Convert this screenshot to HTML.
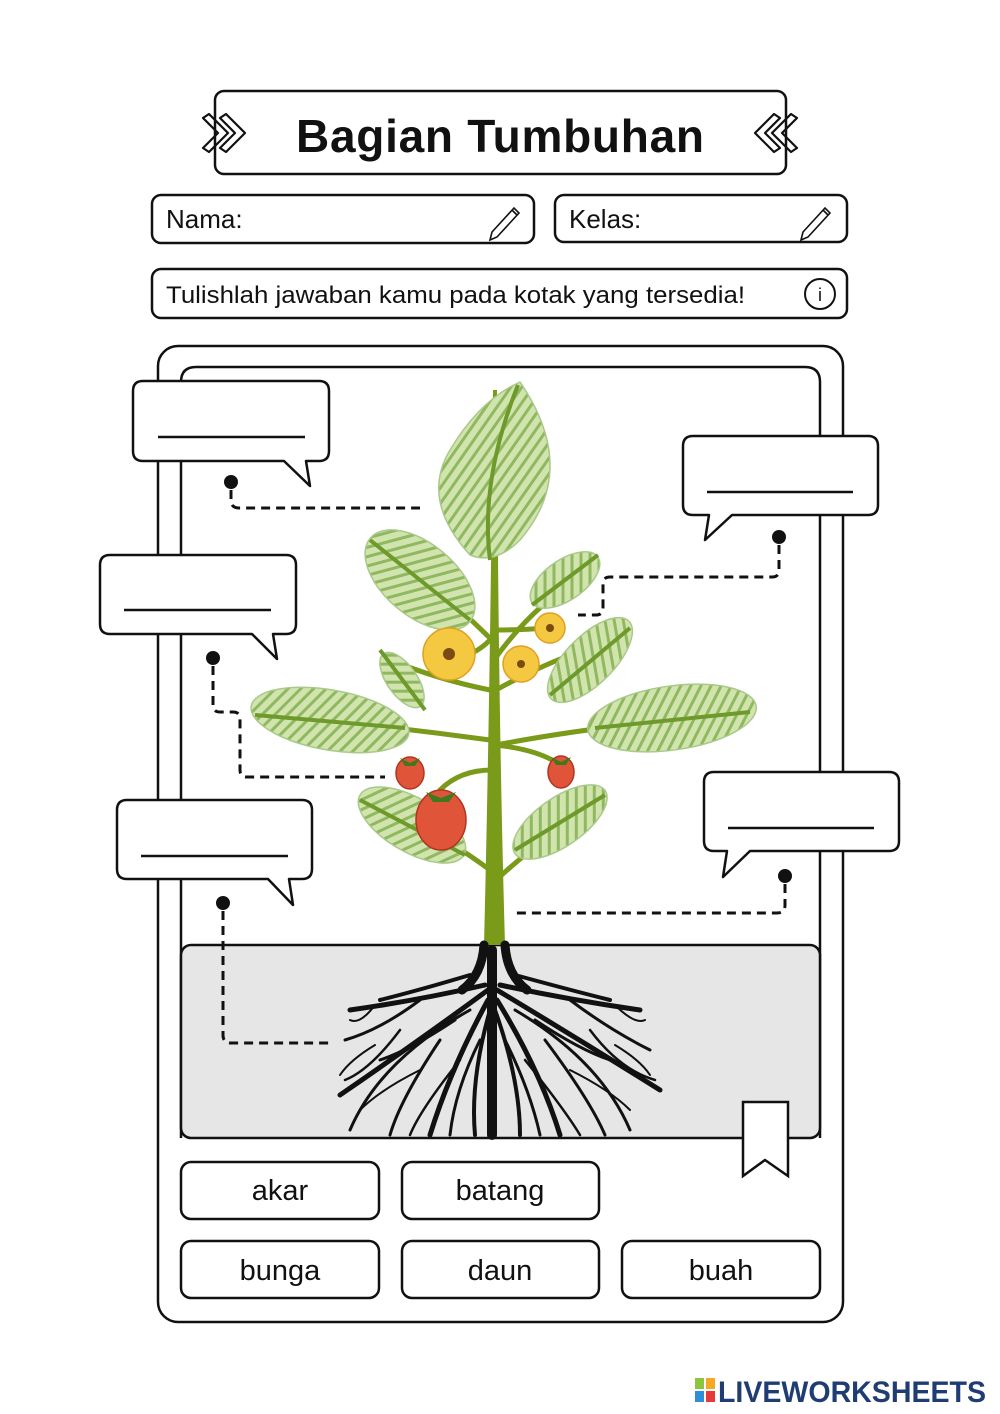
<!DOCTYPE html>
<html><head><meta charset="utf-8"><style>html,body{margin:0;padding:0;background:#fff}svg{display:block}text{font-family:"Liberation Sans",sans-serif}</style></head>
<body>
<svg width="1000" height="1414" viewBox="0 0 1000 1414" xmlns="http://www.w3.org/2000/svg">
<defs>
<pattern id="st" width="9" height="9" patternUnits="userSpaceOnUse" patternTransform="rotate(35)">
<rect width="9" height="9" fill="#d2e4ae"/><rect width="3" height="9" fill="#8fb860"/>
</pattern>
</defs>
<g fill="none" stroke="#111" stroke-width="2.5">
<rect x="215" y="91" width="571" height="83" rx="9"/>
<g stroke-width="2.2" stroke-linejoin="round">
<path d="M203,118 L218,133 L203,148 L209,152 L228,133 L209,114z"/>
<path d="M220,118 L235,133 L220,148 L226,152 L245,133 L226,114z"/>
<path d="M797,118 L782,133 L797,148 L791,152 L772,133 L791,114z"/>
<path d="M780,118 L765,133 L780,148 L774,152 L755,133 L774,114z"/>
</g>
<rect x="152" y="195" width="382" height="48" rx="9"/>
<rect x="555" y="195" width="292" height="47" rx="9"/>
<rect x="152" y="269" width="695" height="49" rx="9"/>
<circle cx="820" cy="294" r="15" stroke-width="2"/>
<rect x="158" y="346" width="685" height="976" rx="20"/>
<path d="M181,1138 V382 Q181,367 196,367 H805 Q820,367 820,382 V1138"/>
<rect x="181" y="945" width="639" height="193" rx="10" fill="#e6e6e6"/>
</g>
<text x="500" y="152" text-anchor="middle" font-size="46" font-weight="bold" fill="#111" textLength="408">Bagian Tumbuhan</text>
<text x="166" y="228" font-size="26" fill="#111">Nama:</text>
<text x="569" y="228" font-size="26" fill="#111">Kelas:</text>
<text x="166" y="303" font-size="24" fill="#111" textLength="579" lengthAdjust="spacingAndGlyphs">Tulishlah jawaban kamu pada kotak yang tersedia!</text>
<text x="820" y="301" font-size="18" text-anchor="middle" fill="#111">i</text>
<g fill="none" stroke="#111" stroke-width="1.6">
<path d="M492,232 l22,-24 l5,5 l-22,24 l-7,3z M512,210 l5,5"/>
<path d="M803,232 l22,-24 l5,5 l-22,24 l-7,3z M823,210 l5,5"/>
</g>
<!-- plant -->
<g>
<path d="M484,945 Q490,700 493,390 L497,390 Q498,700 505,945z" fill="#7a9a1a"/>
<g stroke="#7a9a1a" stroke-width="5" fill="none" stroke-linecap="round">
<path d="M492,640 Q450,600 410,560"/><path d="M494,660 Q530,610 570,585"/>
<path d="M490,740 Q380,725 270,715"/><path d="M496,745 Q600,725 730,715"/>
<path d="M490,690 Q440,680 390,660"/><path d="M496,690 Q550,660 600,645"/>
<path d="M490,870 Q450,840 390,810"/><path d="M496,880 Q540,840 590,805"/>
<path d="M490,640 Q470,660 450,655"/><path d="M495,630 Q520,630 548,628"/>
<path d="M492,770 Q460,770 440,790"/><path d="M496,745 Q540,750 560,765"/>
</g>
<g fill="url(#st)" stroke="#a9c98a" stroke-width="1.5">
<path d="M520,382 Q580,470 520,540 Q495,565 470,555 Q420,500 450,450 Q480,400 520,382z"/>
<ellipse cx="420" cy="580" rx="65" ry="36" transform="rotate(40 420 580)"/>
<ellipse cx="565" cy="580" rx="40" ry="20" transform="rotate(-35 565 580)"/>
<ellipse cx="402" cy="680" rx="32" ry="15" transform="rotate(55 402 680)"/>
<ellipse cx="330" cy="720" rx="80" ry="30" transform="rotate(10 330 720)"/>
<ellipse cx="590" cy="660" rx="55" ry="24" transform="rotate(-45 590 660)"/>
<ellipse cx="672" cy="718" rx="85" ry="32" transform="rotate(-8 672 718)"/>
<ellipse cx="412" cy="825" rx="60" ry="27" transform="rotate(30 412 825)"/>
<ellipse cx="560" cy="822" rx="55" ry="24" transform="rotate(-35 560 822)"/>
</g>
<g stroke="#6d9a2a" stroke-width="4" fill="none">
<path d="M518,385 Q480,480 490,560"/><path d="M370,540 L470,620"/><path d="M598,555 L532,605"/>
<path d="M255,715 L405,728"/><path d="M750,712 L595,728"/><path d="M630,628 L550,695"/>
<path d="M360,800 L465,855"/><path d="M605,795 L515,850"/><path d="M380,650 L425,710"/>
</g>
<g fill="#f5c842" stroke="#e0a020" stroke-width="1.5">
<circle cx="449" cy="654" r="26"/><circle cx="550" cy="628" r="15"/><circle cx="521" cy="664" r="18"/>
</g>
<g fill="#7a4a10"><circle cx="449" cy="654" r="6"/><circle cx="550" cy="628" r="4"/><circle cx="521" cy="664" r="4"/></g>
<g fill="#e0553a" stroke="#b03520" stroke-width="1.5">
<ellipse cx="410" cy="773" rx="14" ry="16"/><ellipse cx="441" cy="820" rx="25" ry="30"/><ellipse cx="561" cy="772" rx="13" ry="16"/>
</g>
<g fill="#3e7a1a"><path d="M400,758 l10,5 l10,-5 l-5,8 h-10z"/><path d="M426,792 l15,6 l15,-6 l-7,10 h-16z"/><path d="M551,757 l10,5 l10,-5 l-5,8 h-10z"/></g>
<!-- roots -->
<g stroke="#111" fill="none" stroke-linecap="round">
<path d="M484,945 Q482,975 462,990 M505,945 Q507,975 527,990" stroke-width="9"/>
<path d="M492,950 L492,1135" stroke-width="10"/>
<path d="M485,985 Q420,1000 350,1010" stroke-width="5"/>
<path d="M500,985 Q570,1000 640,1010" stroke-width="5"/>
<path d="M488,990 Q420,1040 340,1095" stroke-width="5"/>
<path d="M497,990 Q580,1040 660,1090" stroke-width="5"/>
<path d="M488,1000 Q450,1070 430,1135" stroke-width="5"/>
<path d="M497,1000 Q540,1070 560,1135" stroke-width="5"/>
<path d="M490,1010 Q470,1080 475,1135" stroke-width="4"/>
<path d="M495,1010 Q520,1080 520,1135" stroke-width="4"/>
<path d="M470,1010 Q380,1060 350,1130" stroke-width="3"/>
<path d="M515,1010 Q600,1060 630,1130" stroke-width="3"/>
<path d="M420,1000 Q380,1030 345,1040" stroke-width="3"/>
<path d="M570,1000 Q610,1030 650,1050" stroke-width="3"/>
<path d="M440,1040 Q400,1100 390,1135" stroke-width="3"/>
<path d="M545,1040 Q590,1100 605,1135" stroke-width="3"/>
<path d="M460,1060 Q420,1110 410,1135" stroke-width="2.5"/>
<path d="M525,1060 Q565,1110 580,1135" stroke-width="2.5"/>
<path d="M400,1030 Q370,1070 345,1080" stroke-width="2.5"/>
<path d="M590,1030 Q620,1070 655,1080" stroke-width="2.5"/>
<path d="M470,975 Q420,990 380,1000" stroke-width="4"/>
<path d="M515,975 Q570,990 610,1000" stroke-width="4"/>
<path d="M375,1005 Q360,1025 350,1020 M615,1005 Q635,1025 645,1020" stroke-width="2"/>
<path d="M455,1020 Q410,1050 380,1060 M535,1020 Q580,1050 610,1060" stroke-width="3"/>
<path d="M480,1040 Q455,1090 450,1135 M505,1040 Q530,1090 540,1135" stroke-width="3"/>
<path d="M420,1070 Q380,1090 360,1110 M570,1070 Q610,1090 630,1110" stroke-width="2"/>
<path d="M375,1045 Q350,1060 340,1075 M615,1045 Q640,1060 650,1075" stroke-width="2"/>
</g>
</g>
<!-- callouts -->
<g fill="#fff" stroke="#111" stroke-width="2.5" stroke-linejoin="round">
<path d="M143,381 H319 Q329,381 329,391 V451 Q329,461 319,461 H306 L310,486 L284,461 H143 Q133,461 133,451 V391 Q133,381 143,381z"/>
<path d="M693,436 H868 Q878,436 878,446 V505 Q878,515 868,515 H732 L705,540 L709,515 H693 Q683,515 683,505 V446 Q683,436 693,436z"/>
<path d="M110,555 H286 Q296,555 296,565 V624 Q296,634 286,634 H273 L277,659 L252,634 H110 Q100,634 100,624 V565 Q100,555 110,555z"/>
<path d="M127,800 H302 Q312,800 312,810 V869 Q312,879 302,879 H289 L293,905 L268,879 H127 Q117,879 117,869 V810 Q117,800 127,800z"/>
<path d="M714,772 H889 Q899,772 899,782 V841 Q899,851 889,851 H750 L723,877 L727,851 H714 Q704,851 704,841 V782 Q704,772 714,772z"/>
</g>
<g stroke="#111" stroke-width="2.5">
<line x1="158" y1="437" x2="305" y2="437"/><line x1="707" y1="492" x2="853" y2="492"/>
<line x1="124" y1="610" x2="271" y2="610"/><line x1="141" y1="856" x2="288" y2="856"/>
<line x1="728" y1="828" x2="874" y2="828"/>
</g>
<g fill="none" stroke="#111" stroke-width="3" stroke-dasharray="9,6">
<path d="M231,490 V500 Q231,508 239,508 H420"/>
<path d="M779,545 V570 Q779,577 772,577 H610 Q603,577 603,584 V608 Q603,615 596,615 H578"/>
<path d="M213,666 V705 Q213,712 220,712 H233 Q240,712 240,719 V770 Q240,777 247,777 H385"/>
<path d="M223,911 V1035 Q223,1043 231,1043 H330"/>
<path d="M785,884 V905 Q785,913 777,913 H515"/>
</g>
<g fill="#111"><circle cx="231" cy="482" r="7"/><circle cx="779" cy="537" r="7"/><circle cx="213" cy="658" r="7"/><circle cx="223" cy="903" r="7"/><circle cx="785" cy="876" r="7"/></g>
<!-- words -->
<g fill="#fff" stroke="#111" stroke-width="2.5">
<rect x="181" y="1162" width="198" height="57" rx="10"/><rect x="402" y="1162" width="197" height="57" rx="10"/>
<rect x="181" y="1241" width="198" height="57" rx="10"/><rect x="402" y="1241" width="197" height="57" rx="10"/><rect x="622" y="1241" width="198" height="57" rx="10"/>
<path d="M743,1102 H788 V1176 L765,1160 L743,1176z"/>
</g>
<g font-size="29" fill="#111" text-anchor="middle">
<text x="280" y="1200">akar</text><text x="500" y="1200">batang</text>
<text x="280" y="1280">bunga</text><text x="500" y="1280">daun</text><text x="721" y="1280">buah</text>
</g>
<!-- logo -->
<rect x="695" y="1378" width="9" height="11" fill="#8cc63f"/><rect x="706" y="1378" width="9" height="11" fill="#f7a823"/>
<rect x="695" y="1391" width="9" height="11" fill="#2d8fd5"/><rect x="706" y="1391" width="9" height="11" fill="#e63a3a"/>
<text x="718" y="1402" font-size="30" font-weight="bold" fill="#1f3d73" textLength="268" lengthAdjust="spacingAndGlyphs">LIVEWORKSHEETS</text>
</svg>
</body></html>
